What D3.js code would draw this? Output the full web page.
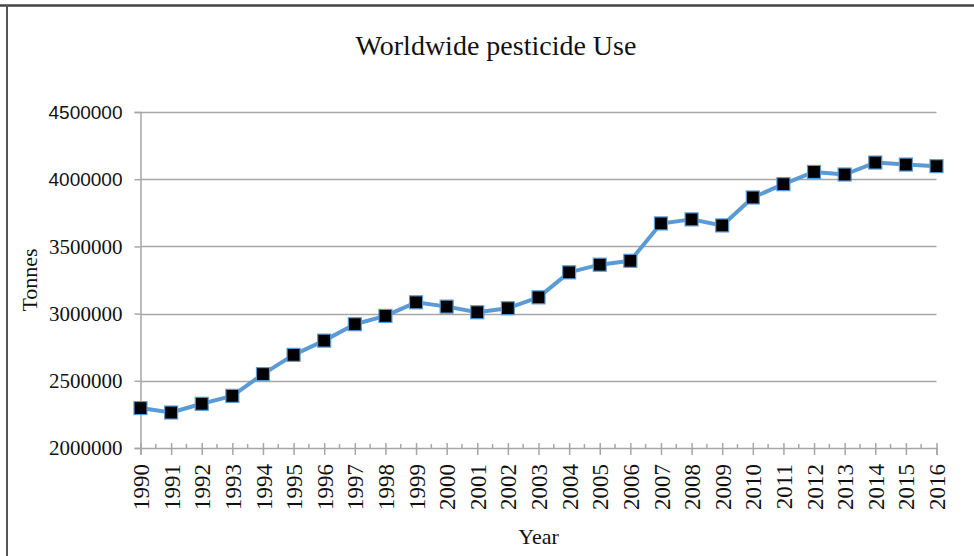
<!DOCTYPE html>
<html>
<head>
<meta charset="utf-8">
<script src="https://cdn.jsdelivr.net/npm/d3@7"></script>
<style>
  html, body { margin: 0; padding: 0; background: #fff; }
  svg { display: block; }
</style>
</head>
<body>
<svg id="chart" width="974" height="556"></svg>
<script>
const years = [1990,1991,1992,1993,1994,1995,1996,1997,1998,1999,2000,2001,2002,2003,2004,2005,2006,2007,2008,2009,2010,2011,2012,2013,2014,2015,2016];
const tonnes = [2297000,2264000,2329000,2388000,2550000,2693000,2799000,2921000,2983000,3084000,3052000,3010000,3040000,3121000,3307000,3364000,3393000,3671000,3701000,3656000,3864000,3963000,4054000,4035000,4124000,4109000,4097000];
const yTicks = [2000000,2500000,3000000,3500000,4000000,4500000];
const sansTicks = [4000000,4500000];
const title = "Worldwide pesticide Use";
const xTitle = "Year";
const yTitle = "Tonnes";

const svg = d3.select("#chart");
const L = 140.5, R = 936.5, T = 112, B = 448;
const x = d3.scaleLinear().domain([1990, 2016]).range([L, R]);
const y = d3.scaleLinear().domain([2000000, 4500000]).range([B, T]);

// frame
svg.append("line").attr("x1", 0).attr("x2", 974).attr("y1", 5.5).attr("y2", 5.5)
  .attr("stroke", "#444").attr("stroke-width", 2.5);
svg.append("line").attr("x1", 7).attr("x2", 7).attr("y1", 5).attr("y2", 556)
  .attr("stroke", "#555").attr("stroke-width", 2);

// title
svg.append("text").attr("x", 496).attr("y", 55).attr("text-anchor", "middle")
  .attr("font-family", "Liberation Serif, Times New Roman, serif").attr("font-size", 28)
  .attr("fill", "#111").text(title);

// gridlines
svg.append("g").selectAll("line").data(yTicks.filter(d => d !== 2000000)).join("line")
  .attr("x1", L).attr("x2", R)
  .attr("y1", d => Math.round(y(d)) + 0.5).attr("y2", d => Math.round(y(d)) + 0.5)
  .attr("stroke", "#a6a6a6").attr("stroke-width", 1.5);

// y axis
const yAxis = d3.axisLeft(y).tickValues(yTicks).tickSize(6).tickPadding(12).tickFormat(d3.format("d"));
const gy = svg.append("g").attr("transform", `translate(${L},0)`).call(yAxis);
gy.select(".domain").attr("stroke", "#a6a6a6").attr("stroke-width", 1.5);
gy.selectAll(".tick line").attr("stroke", "#a6a6a6").attr("stroke-width", 1.5);
gy.selectAll(".tick text")
  .attr("fill", "#111")
  .attr("font-family", d => sansTicks.includes(d) ? "Liberation Sans, Arial, sans-serif" : "Liberation Serif, Times New Roman, serif")
  .attr("font-size", d => sansTicks.includes(d) ? 19 : 21);

// x axis
const xAxis = d3.axisBottom(x).tickValues(years).tickSize(7).tickPadding(0).tickFormat(d3.format("d"));
const gx = svg.append("g").attr("transform", `translate(0,${B})`).call(xAxis);
gx.select(".domain").attr("stroke", "#a6a6a6").attr("stroke-width", 1.5);
gx.selectAll(".tick line").attr("stroke", "#a6a6a6").attr("stroke-width", 1.5).attr("y1", -5);
gx.selectAll(".tick text")
  .attr("fill", "#111")
  .attr("font-family", "Liberation Serif, Times New Roman, serif").attr("font-size", 23)
  .attr("text-anchor", "end")
  .attr("transform", "rotate(-90)")
  .attr("x", -16).attr("y", 0).attr("dy", "0.35em");
// minor ticks
const mids = years.slice(0, -1).map(d => d + 0.5);
svg.append("g").selectAll("line").data(mids).join("line")
  .attr("x1", d => x(d)).attr("x2", d => x(d)).attr("y1", B - 4).attr("y2", B)
  .attr("stroke", "#a6a6a6").attr("stroke-width", 1.5);

// axis titles
svg.append("text").attr("x", (L + R) / 2).attr("y", 544).attr("text-anchor", "middle")
  .attr("font-family", "Liberation Serif, Times New Roman, serif").attr("font-size", 22)
  .attr("fill", "#111").text(xTitle);
svg.append("text").attr("transform", "translate(37,280) rotate(-90)").attr("text-anchor", "middle")
  .attr("font-family", "Liberation Serif, Times New Roman, serif").attr("font-size", 22)
  .attr("fill", "#111").text(yTitle);

// line
const data = years.map((yr, i) => ({ yr, v: tonnes[i] }));
svg.append("path").datum(data)
  .attr("d", d3.line().x(d => x(d.yr)).y(d => y(d.v)))
  .attr("fill", "none").attr("stroke", "#5b9bd5").attr("stroke-width", 4)
  .attr("stroke-linejoin", "round");

// markers
const s = 13;
svg.append("g").selectAll("rect").data(data).join("rect")
  .attr("x", d => x(d.yr) - s / 2).attr("y", d => y(d.v) - s / 2)
  .attr("width", s).attr("height", s)
  .attr("fill", "#000").attr("stroke", "#5b9bd5").attr("stroke-width", 1.2);
</script>
</body>
</html>
